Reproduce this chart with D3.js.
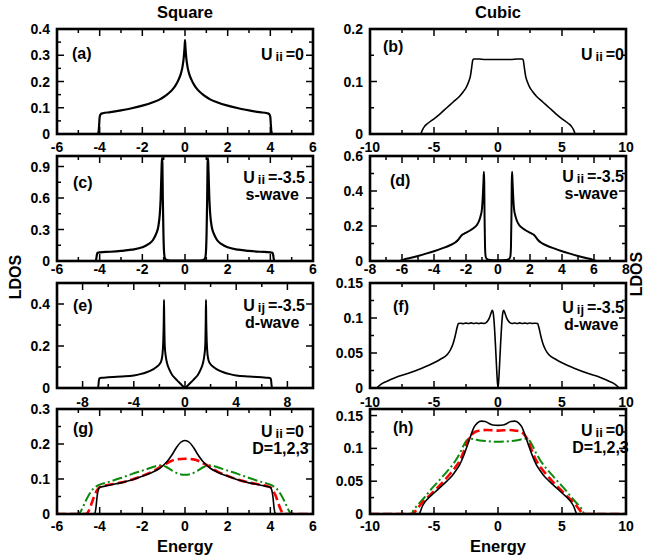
<!DOCTYPE html>
<html><head><meta charset="utf-8">
<script src="https://cdn.jsdelivr.net/npm/d3@7"></script>
<style>
body{margin:0;background:#fff}
text{font-family:"Liberation Sans",Arial,Helvetica,sans-serif;font-weight:bold;fill:#000}
</style>
</head><body>
<svg id="c" width="646" height="559"></svg>
<script>
// ---------------- data ----------------
const sqFree = [[-6,0],[-4.1,0],[-4.05,0.01],[-4.02,0.04],[-4,0.065],[-3.95,0.076],[-3.85,0.079],[-3.5,0.083],[-3,0.09],[-2.5,0.098],[-2,0.108],[-1.5,0.121],[-1.2,0.131],[-1,0.141],[-0.8,0.153],[-0.6,0.168],[-0.45,0.184],[-0.3,0.207],[-0.2,0.228],[-0.12,0.255],[-0.06,0.29],[-0.02,0.33],[0,0.358],[0.02,0.33],[0.06,0.29],[0.12,0.255],[0.2,0.228],[0.3,0.207],[0.45,0.184],[0.6,0.168],[0.8,0.153],[1,0.141],[1.2,0.131],[1.5,0.121],[2,0.108],[2.5,0.098],[3,0.09],[3.5,0.083],[3.85,0.079],[3.95,0.076],[4,0.065],[4.02,0.04],[4.05,0.01],[4.1,0],[6,0]];

const cubFree = [[-10,0],[-6.05,0],[-6,0.002],[-5.9,0.008],[-5.75,0.014],[-5.5,0.02],[-5,0.029],[-4.5,0.039],[-4,0.05],[-3.5,0.061],[-3,0.072],[-2.7,0.081],[-2.5,0.088],[-2.3,0.099],[-2.15,0.111],[-2.05,0.128],[-1.97,0.141],[-1.9,0.143],[-1.5,0.143],[-1,0.142],[-0.5,0.142],[0,0.142],[0.5,0.142],[1,0.142],[1.5,0.143],[1.9,0.143],[1.97,0.141],[2.05,0.128],[2.15,0.111],[2.3,0.099],[2.5,0.088],[2.7,0.081],[3,0.072],[3.5,0.061],[4,0.05],[4.5,0.039],[5,0.029],[5.5,0.02],[5.75,0.014],[5.9,0.008],[6,0.002],[6.05,0],[10,0]];

const sqSwave = [[-6,0],[-4.2,0],[-4.16,0.02],[-4.13,0.06],[-4.1,0.078],[-4,0.083],[-3.5,0.088],[-3,0.096],[-2.5,0.108],[-2,0.13],[-1.7,0.162],[-1.5,0.2],[-1.35,0.26],[-1.25,0.33],[-1.18,0.45],[-1.14,0.6],[-1.11,0.8],[-1.09,0.93],[-1.075,0.98],[-1.06,0.93],[-1.04,0.6],[-1.01,0.25],[-0.98,0.08],[-0.94,0.025],[-0.86,0.01],[-0.7,0.005],[0,0.004],[0.7,0.005],[0.86,0.01],[0.94,0.025],[0.98,0.08],[1.01,0.25],[1.04,0.6],[1.06,0.93],[1.075,0.98],[1.09,0.93],[1.11,0.8],[1.14,0.6],[1.18,0.45],[1.25,0.33],[1.35,0.26],[1.5,0.2],[1.7,0.162],[2,0.13],[2.5,0.108],[3,0.096],[3.5,0.088],[4,0.083],[4.1,0.078],[4.13,0.06],[4.16,0.02],[4.2,0],[6,0]];

const cubSwave = [[-8,0],[-6.15,0],[-6.05,0.003],[-5.9,0.008],[-5.5,0.017],[-5,0.029],[-4.5,0.042],[-4,0.056],[-3.5,0.072],[-3,0.09],[-2.7,0.104],[-2.5,0.12],[-2.35,0.138],[-2.22,0.151],[-2.1,0.157],[-1.95,0.164],[-1.7,0.177],[-1.5,0.19],[-1.32,0.206],[-1.18,0.23],[-1.08,0.26],[-1,0.3],[-0.95,0.37],[-0.91,0.45],[-0.88,0.51],[-0.86,0.45],[-0.84,0.25],[-0.81,0.08],[-0.77,0.025],[-0.7,0.012],[-0.5,0.006],[0,0.005],[0.5,0.006],[0.7,0.012],[0.77,0.025],[0.81,0.08],[0.84,0.25],[0.86,0.45],[0.88,0.51],[0.91,0.45],[0.95,0.37],[1,0.3],[1.08,0.26],[1.18,0.23],[1.32,0.206],[1.5,0.19],[1.7,0.177],[1.95,0.164],[2.1,0.157],[2.22,0.151],[2.35,0.138],[2.5,0.12],[2.7,0.104],[3,0.09],[3.5,0.072],[4,0.056],[4.5,0.042],[5,0.029],[5.5,0.017],[5.9,0.008],[6.05,0.003],[6.15,0],[8,0]];

const sqDwave = [[-10,0],[-6.8,0],[-6.76,0.015],[-6.73,0.035],[-6.69,0.046],[-6.5,0.049],[-6,0.051],[-5,0.055],[-4,0.06],[-3.5,0.066],[-3,0.075],[-2.5,0.089],[-2.2,0.101],[-2,0.113],[-1.85,0.13],[-1.76,0.16],[-1.7,0.22],[-1.66,0.32],[-1.64,0.42],[-1.62,0.32],[-1.58,0.2],[-1.5,0.15],[-1.4,0.118],[-1.2,0.085],[-1,0.062],[-0.8,0.048],[-0.6,0.035],[-0.4,0.023],[-0.2,0.011],[0,0.001],[0.2,0.011],[0.4,0.023],[0.6,0.035],[0.8,0.048],[1,0.062],[1.2,0.085],[1.4,0.118],[1.5,0.15],[1.58,0.2],[1.62,0.32],[1.64,0.42],[1.66,0.32],[1.7,0.22],[1.76,0.16],[1.85,0.13],[2,0.113],[2.2,0.101],[2.5,0.089],[3,0.075],[3.5,0.066],[4,0.06],[5,0.055],[6,0.051],[6.5,0.049],[6.69,0.046],[6.73,0.035],[6.76,0.015],[6.8,0],[10,0]];

const cubDwave = [[-10,0],[-9.5,0],[-9.3,0.003],[-9,0.007],[-8.5,0.011],[-8,0.015],[-7,0.021],[-6,0.028],[-5,0.036],[-4.5,0.041],[-4,0.047],[-3.7,0.055],[-3.5,0.064],[-3.35,0.074],[-3.2,0.086],[-3.1,0.092],[-2.9,0.0925],[-2.7,0.092],[-2.5,0.0927],[-2.3,0.0921],[-2.1,0.093],[-1.9,0.0922],[-1.7,0.0928],[-1.5,0.092],[-1.3,0.0927],[-1.1,0.0922],[-0.95,0.093],[-0.8,0.096],[-0.7,0.099],[-0.6,0.104],[-0.5,0.109],[-0.44,0.111],[-0.38,0.108],[-0.32,0.098],[-0.26,0.082],[-0.2,0.062],[-0.14,0.04],[-0.08,0.018],[-0.03,0.005],[0,0.002],[0.03,0.005],[0.08,0.018],[0.14,0.04],[0.2,0.062],[0.26,0.082],[0.32,0.098],[0.38,0.108],[0.44,0.111],[0.5,0.109],[0.6,0.104],[0.7,0.099],[0.8,0.096],[0.95,0.093],[1.1,0.0921],[1.3,0.0928],[1.5,0.0922],[1.7,0.093],[1.9,0.0921],[2.1,0.0927],[2.3,0.092],[2.5,0.0928],[2.7,0.0922],[2.9,0.0926],[3.1,0.092],[3.2,0.086],[3.35,0.074],[3.5,0.064],[3.7,0.055],[4,0.047],[4.5,0.041],[5,0.036],[6,0.028],[7,0.021],[8,0.015],[8.5,0.011],[9,0.007],[9.3,0.003],[9.5,0],[10,0]];

// panel (g): square lattice, D = 1, 2, 3
const sqD1 = [[-6,0],[-4.3,0],[-4.22,0.003],[-4.17,0.02],[-4.12,0.05],[-4.07,0.068],[-4,0.076],[-3.8,0.079],[-3.5,0.083],[-3,0.089],[-2.5,0.097],[-2,0.108],[-1.5,0.12],[-1.2,0.13],[-1,0.14],[-0.8,0.153],[-0.6,0.17],[-0.4,0.19],[-0.2,0.205],[0,0.21],[0.2,0.205],[0.4,0.19],[0.6,0.17],[0.8,0.153],[1,0.14],[1.2,0.13],[1.5,0.12],[2,0.108],[2.5,0.097],[3,0.089],[3.5,0.083],[3.8,0.079],[4,0.076],[4.07,0.068],[4.12,0.05],[4.17,0.02],[4.22,0.003],[4.3,0],[6,0]];
const sqD2 = [[-6,0],[-4.65,0],[-4.55,0.005],[-4.45,0.018],[-4.35,0.035],[-4.25,0.052],[-4.15,0.065],[-4.05,0.074],[-3.9,0.079],[-3.5,0.084],[-3,0.09],[-2.5,0.098],[-2,0.109],[-1.5,0.122],[-1,0.14],[-0.7,0.15],[-0.4,0.156],[0,0.158],[0.4,0.156],[0.7,0.15],[1,0.14],[1.5,0.122],[2,0.109],[2.5,0.098],[3,0.09],[3.5,0.084],[3.9,0.079],[4.05,0.074],[4.15,0.065],[4.25,0.052],[4.35,0.035],[4.45,0.018],[4.55,0.005],[4.65,0],[6,0]];
const sqD3 = [[-6,0],[-5,0],[-4.9,0.006],[-4.8,0.018],[-4.65,0.038],[-4.5,0.055],[-4.3,0.072],[-4.1,0.081],[-3.8,0.088],[-3.5,0.093],[-3,0.103],[-2.5,0.114],[-2,0.124],[-1.6,0.132],[-1.3,0.138],[-1.1,0.139],[-0.9,0.135],[-0.6,0.124],[-0.3,0.115],[0,0.112],[0.3,0.115],[0.6,0.124],[0.9,0.135],[1.1,0.139],[1.3,0.138],[1.6,0.132],[2,0.124],[2.5,0.114],[3,0.103],[3.5,0.093],[3.8,0.088],[4.1,0.081],[4.3,0.072],[4.5,0.055],[4.65,0.038],[4.8,0.018],[4.9,0.006],[5,0],[6,0]];

// panel (h): cubic lattice, D = 1, 2, 3
const cubD1 = [[-10,0],[-6.15,0],[-6.08,0.003],[-5.95,0.01],[-5.75,0.017],[-5.5,0.023],[-5,0.032],[-4.5,0.041],[-4,0.05],[-3.6,0.058],[-3.3,0.066],[-3,0.075],[-2.7,0.088],[-2.4,0.104],[-2.1,0.121],[-1.85,0.133],[-1.6,0.139],[-1.3,0.1415],[-1,0.141],[-0.7,0.138],[-0.4,0.1355],[0,0.135],[0.4,0.1355],[0.7,0.138],[1,0.141],[1.3,0.1415],[1.6,0.139],[1.85,0.133],[2.1,0.121],[2.4,0.104],[2.7,0.088],[3,0.075],[3.3,0.066],[3.6,0.058],[4,0.05],[4.5,0.041],[5,0.032],[5.5,0.023],[5.75,0.017],[5.95,0.01],[6.08,0.003],[6.15,0],[10,0]];
const cubD2 = [[-10,0],[-6.6,0],[-6.5,0.003],[-6.35,0.007],[-6.1,0.013],[-5.83,0.019],[-5.3,0.029],[-4.79,0.039],[-4.2,0.051],[-3.75,0.061],[-3.3,0.072],[-2.97,0.082],[-2.6,0.099],[-2.32,0.113],[-2.05,0.121],[-1.8,0.125],[-1.4,0.127],[-0.9,0.128],[0,0.127],[0.9,0.128],[1.4,0.127],[1.8,0.125],[2.05,0.121],[2.32,0.113],[2.6,0.099],[2.97,0.082],[3.3,0.072],[3.75,0.061],[4.2,0.051],[4.79,0.039],[5.3,0.029],[5.83,0.019],[6.1,0.013],[6.35,0.007],[6.5,0.003],[6.6,0],[10,0]];
const cubD3 = [[-10,0],[-6.75,0],[-6.6,0.006],[-6.3,0.013],[-5.8,0.024],[-5.3,0.036],[-4.79,0.047],[-4.2,0.06],[-3.75,0.07],[-3.3,0.082],[-2.97,0.093],[-2.7,0.104],[-2.45,0.112],[-2.2,0.115],[-1.9,0.114],[-1.4,0.112],[-0.9,0.111],[0,0.11],[0.9,0.111],[1.4,0.112],[1.9,0.114],[2.2,0.115],[2.45,0.112],[2.7,0.104],[2.97,0.093],[3.3,0.082],[3.75,0.07],[4.2,0.06],[4.79,0.047],[5.3,0.036],[5.8,0.024],[6.3,0.013],[6.6,0.006],[6.75,0],[10,0]];

// tick values
const xTicks6 = [-6,-4,-2,0,2,4,6],  xMinor6 = [-5,-3,-1,1,3,5];
const xTicks10 = [-10,-5,0,5,10],    xMinor10 = [-7.5,-2.5,2.5,7.5];
const xTicks8 = [-8,-6,-4,-2,0,2,4,6,8], xMinor8 = [-7,-5,-3,-1,1,3,5,7];
const xTicksE = [-8,-4,0,4,8],       xMinorE = [-10,-6,-2,2,6,10];
const yTicksA = [0,0.1,0.2,0.3,0.4], yMinorA = [0.05,0.15,0.25,0.35];
const yTicksB = [0,0.1,0.2],         yMinorB = [0.05,0.15];
const yTicksC = [0,0.3,0.6,0.9],     yMinorC = [0.15,0.45,0.75];
const yTicksD = [0,0.2,0.4,0.6],     yMinorD = [0.1,0.3,0.5];
const yTicksE = [0,0.2,0.4],         yMinorE = [0.1,0.3];
const yTicksF = [0,0.05,0.1,0.15],   yMinorF = [0.025,0.075,0.125];
const yTicksG = [0,0.1,0.2,0.3],     yMinorG = [0.05,0.15,0.25];

const panelLabels = ["(a)","(b)","(c)","(d)","(e)","(f)","(g)","(h)"];
const columnTitles = ["Square","Cubic"];

// ---------------- layout ----------------
const svg = d3.select("#c");
const colX = [57, 370], boxW = 256;
const rowY = [29, 156, 283, 409], boxH = 105;
const xLabOff = [18, 13, 19, 17];

const solid = (data, w) => ({data, color:"#000", width:w, dash:null});
const panels = [
  {col:0,row:0,xd:[-6,6],yd:[0,0.4],xt:xTicks6,xm:xMinor6,yt:yTicksA,ym:yMinorA,series:[solid(sqFree,2.2)],lab:[15,30],sub:"ii",rest:"=0",line2:null,uy:31,ur:9},
  {col:1,row:0,xd:[-10,10],yd:[0,0.2],xt:xTicks10,xm:xMinor10,yt:yTicksB,ym:yMinorB,series:[solid(cubFree,1.6)],lab:[13,23],sub:"ii",rest:"=0",line2:null,uy:31,ur:2},
  {col:0,row:1,xd:[-6,6],yd:[0,1.0],xt:xTicks6,xm:xMinor6,yt:yTicksC,ym:yMinorC,series:[solid(sqSwave,2.2)],lab:[16,32],sub:"ii",rest:"=-3.5",line2:"s-wave",uy:27,ur:8},
  {col:1,row:1,xd:[-8,8],yd:[0,0.6],xt:xTicks8,xm:xMinor8,yt:yTicksD,ym:yMinorD,series:[solid(cubSwave,2)],lab:[20,30],sub:"ii",rest:"=-3.5",line2:"s-wave",uy:26,ur:2},
  {col:0,row:2,xd:[-10,10],yd:[0,0.5],xt:xTicksE,xm:xMinorE,yt:yTicksE,ym:yMinorE,series:[solid(sqDwave,2)],lab:[16,28],sub:"ij",rest:"=-3.5",line2:"d-wave",uy:28,ur:8},
  {col:1,row:2,xd:[-10,10],yd:[0,0.15],xt:xTicks10,xm:xMinor10,yt:yTicksF,ym:yMinorF,series:[solid(cubDwave,1.6)],lab:[23,29],sub:"ij",rest:"=-3.5",line2:"d-wave",uy:30,ur:2},
  {col:0,row:3,xd:[-6,6],yd:[0,0.3],xt:xTicks6,xm:xMinor6,yt:yTicksG,ym:yMinorG,
    series:[{data:sqD3,color:"#0a8a0a",width:2,dash:"10,3,2,3"},{data:sqD2,color:"#ff0000",width:2.6,dash:"9,4"},solid(sqD1,1.6)],
    lab:[16,25],sub:"ii",rest:"=0",line2:"D=1,2,3",uy:28,ur:9},
  {col:1,row:3,xd:[-10,10],yd:[0,0.16],xt:xTicks10,xm:xMinor10,yt:yTicksF,ym:yMinorF,
    series:[{data:cubD3,color:"#0a8a0a",width:2,dash:"10,3,2,3"},{data:cubD2,color:"#ff0000",width:2.6,dash:"9,4"},solid(cubD1,1.6)],
    lab:[23,24],sub:"ii",rest:"=0",line2:"D=1,2,3",uy:27,ur:2}
];

const fmt = v => v === 0 ? "0" : String(v);

panels.forEach((p, i) => {
  const x0 = colX[p.col], y0 = rowY[p.row];
  const x = d3.scaleLinear().domain(p.xd).range([x0, x0 + boxW]);
  const y = d3.scaleLinear().domain(p.yd).range([y0 + boxH, y0]);
  const g = svg.append("g");
  const cid = "clip" + i;
  svg.append("clipPath").attr("id", cid).append("rect")
    .attr("x", x0).attr("y", y0).attr("width", boxW).attr("height", boxH);

  const line = d3.line().x(d => x(d[0])).y(d => y(d[1])).curve(d3.curveMonotoneX);
  p.series.forEach(s => {
    g.append("path").attr("d", line(s.data)).attr("fill", "none")
      .attr("stroke", s.color).attr("stroke-width", s.width)
      .attr("stroke-dasharray", s.dash).attr("stroke-linejoin", "round")
      .attr("clip-path", `url(#${cid})`);
  });

  // ticks on all four sides, inward
  const tk = g.append("g").attr("stroke", "#000").attr("stroke-width", 1.5);
  const xt = (vals, len) => vals.forEach(v => {
    tk.append("line").attr("x1", x(v)).attr("x2", x(v)).attr("y1", y0 + boxH).attr("y2", y0 + boxH - len);
    tk.append("line").attr("x1", x(v)).attr("x2", x(v)).attr("y1", y0).attr("y2", y0 + len);
  });
  const yt = (vals, len) => vals.forEach(v => {
    tk.append("line").attr("y1", y(v)).attr("y2", y(v)).attr("x1", x0).attr("x2", x0 + len);
    tk.append("line").attr("y1", y(v)).attr("y2", y(v)).attr("x1", x0 + boxW).attr("x2", x0 + boxW - len);
  });
  xt(p.xt, 7); xt(p.xm, 4); yt(p.yt, 7); yt(p.ym, 4);

  g.append("rect").attr("x", x0).attr("y", y0).attr("width", boxW).attr("height", boxH)
    .attr("fill", "none").attr("stroke", "#000").attr("stroke-width", 2.6);

  // tick labels
  p.xt.forEach(v => g.append("text").attr("x", x(v)).attr("y", y0 + boxH + xLabOff[p.row])
    .attr("text-anchor", "middle").attr("font-size", 14).text(fmt(v)));
  p.yt.forEach(v => g.append("text").attr("x", x0 - 7).attr("y", y(v)).attr("dy", "0.36em")
    .attr("text-anchor", "end").attr("font-size", 14).text(fmt(v)));

  // panel label
  g.append("text").attr("x", x0 + p.lab[0]).attr("y", y0 + p.lab[1]).attr("font-size", 16).text(panelLabels[i]);

  // U annotation
  const ut = g.append("text").attr("x", x0 + boxW - p.ur).attr("y", y0 + p.uy)
    .attr("text-anchor", "end").attr("font-size", 16);
  ut.append("tspan").text("U");
  ut.append("tspan").attr("dx", 3).attr("dy", 1).attr("font-size", 13).text(p.sub);
  ut.append("tspan").attr("dx", 3).attr("dy", -1).text(p.rest);
  if (p.line2) {
    const bb = ut.node().getBBox();
    g.append("text").attr("x", bb.x + bb.width / 2 - 2).attr("y", y0 + p.uy + 17)
      .attr("text-anchor", "middle").attr("font-size", 16).text(p.line2);
  }
});

// column titles, axis titles
columnTitles.forEach((t, c) => svg.append("text").attr("x", colX[c] + boxW / 2).attr("y", 18)
  .attr("text-anchor", "middle").attr("font-size", 16.5).text(t));
[0, 1].forEach(c => svg.append("text").attr("x", colX[c] + boxW / 2).attr("y", 552)
  .attr("text-anchor", "middle").attr("font-size", 16.5).text("Energy"));
svg.append("text").attr("transform", "translate(15.5,277) rotate(-90)").attr("dy", "0.36em")
  .attr("text-anchor", "middle").attr("font-size", 16).text("LDOS");
svg.append("text").attr("transform", "translate(636,274) rotate(-90)").attr("dy", "0.36em")
  .attr("text-anchor", "middle").attr("font-size", 16).text("LDOS");
</script>
</body></html>
